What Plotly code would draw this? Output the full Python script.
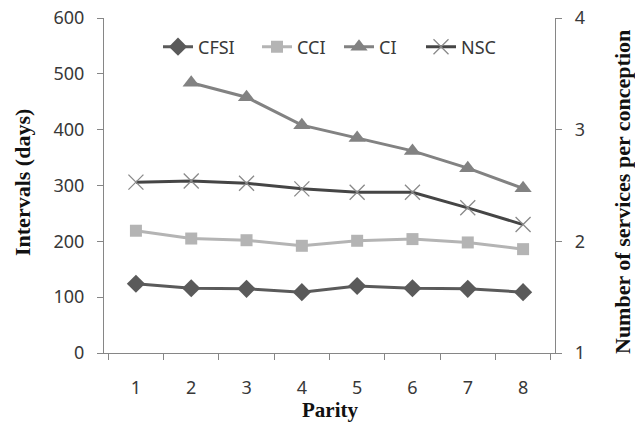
import plotly.graph_objects as go

parity = ["1", "2", "3", "4", "5", "6", "7", "8"]
cfsi = [124, 116, 115, 109, 120, 116, 115, 109]
cci = [219, 205, 202, 192, 201, 204, 198, 186]
ci = [None, 484, 458, 408, 385, 362, 331, 295]
nsc = [2.53, 2.54, 2.52, 2.47, 2.44, 2.44, 2.30, 2.15]

fig = go.Figure()
fig.add_trace(go.Scatter(x=parity, y=cfsi, name="CFSI", mode="lines+markers", legend="legend",
                         line=dict(color="#5a5a5a", width=3),
                         marker=dict(symbol="diamond", size=14, color="#5a5a5a")))
fig.add_trace(go.Scatter(x=parity, y=cci, name="CCI", mode="lines+markers", legend="legend2",
                         line=dict(color="#b4b4b4", width=3),
                         marker=dict(symbol="square", size=12, color="#b4b4b4")))
fig.add_trace(go.Scatter(x=parity, y=ci, name="CI", mode="lines+markers", legend="legend3",
                         line=dict(color="#828282", width=3),
                         marker=dict(symbol="triangle-up", size=15, color="#828282")))
fig.add_trace(go.Scatter(x=parity, y=nsc, name="NSC", mode="lines+markers", yaxis="y2",
                         legend="legend4",
                         line=dict(color="#454545", width=3),
                         marker=dict(symbol="x-thin", size=15,
                                     line=dict(color="#8a8a8a", width=1.3))))

axcol = "#868686"
tickfont = dict(family="Noto Sans", size=18, color="#383838")
titlefont = dict(family="Liberation Serif", size=22, color="#111111")

W, H = 635, 423
pl, pr, pt, pb = 104, 555, 18, 353


def px(xp):
    return (xp - pl) / (pr - pl)


def py(yp):
    return (pb - yp) / (pb - pt)


def leg(xstart):
    return dict(orientation="h", x=px(xstart), y=py(47), xanchor="left", yanchor="middle",
                font=dict(family="Noto Sans", size=18, color="#383838"),
                bgcolor="rgba(0,0,0,0)", borderwidth=0)


fig.update_layout(
    template="none",
    width=W, height=H,
    margin=dict(l=pl, r=W - pr, t=pt, b=H - pb),
    paper_bgcolor="white", plot_bgcolor="white",
    showlegend=True,
    legend=leg(158), legend2=leg(257), legend3=leg(339), legend4=leg(421),
    xaxis=dict(type="category", tickson="boundaries", ticks="outside", ticklen=6,
               tickcolor=axcol, showline=True, linecolor=axcol, linewidth=1.2,
               showgrid=False, tickfont=tickfont, ticklabelstandoff=18, automargin=False),
    yaxis=dict(range=[0, 600], dtick=100, ticks="outside", ticklen=6, tickcolor=axcol,
               showline=True, linecolor=axcol, linewidth=1.2, showgrid=False,
               zeroline=False, tickfont=tickfont, ticklabelstandoff=9, automargin=False),
    yaxis2=dict(range=[1, 4], dtick=1, overlaying="y", side="right", ticks="outside",
                ticklen=6, tickcolor=axcol, showline=True, linecolor=axcol, linewidth=1.2,
                showgrid=False, zeroline=False, tickfont=tickfont, ticklabelstandoff=9,
                automargin=False),
)

fig.add_annotation(text="<b>Parity</b>", x=px(329.5), y=py(410), xref="paper", yref="paper",
                   showarrow=False, font=dict(family="Liberation Serif", size=21,
                                              color="#111111"),
                   xanchor="center", yanchor="middle")
fig.add_annotation(text="<b>Intervals (days)</b>", x=px(22), y=py(183), xref="paper",
                   yref="paper", showarrow=False, font=titlefont, textangle=-90,
                   xanchor="center", yanchor="middle")
fig.add_annotation(text="<b>Number of services per conception</b>", x=px(622), y=py(192),
                   xref="paper", yref="paper", showarrow=False, font=titlefont,
                   textangle=-90, xanchor="center", yanchor="middle")

fig.write_html("out.html", config={"displayModeBar": False},
               post_script="document.body.style.margin='0';")
